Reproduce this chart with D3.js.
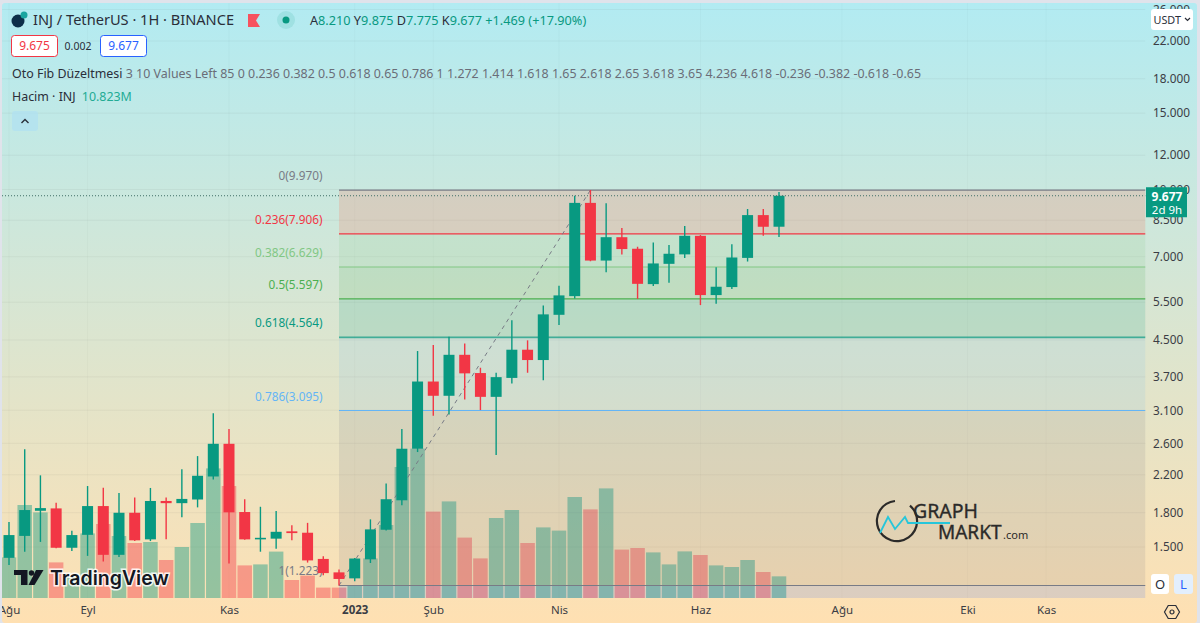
<!DOCTYPE html>
<html>
<head>
<meta charset="utf-8">
<script src="https://cdn.jsdelivr.net/npm/d3@7"></script>
<style>
  html, body { margin: 0; padding: 0; background: #e0e3eb; overflow: hidden; }
  text { font-family: "Noto Sans", sans-serif; }
</style>
</head>
<body>
<svg id="chart" width="1200" height="623"></svg>
<script>
// candles, one per period
const candleOpen = [1.416,1.591,1.818,1.841,1.494,1.600,1.864,1.439,1.799,1.562,1.915,1.893,1.930,2.181,2.594,1.806,1.562,1.568,1.630,1.618,1.408,1.311,1.270,1.405,1.644,1.922,2.527,3.610,3.347,4.160,3.776,3.328,3.680,4.274,4.046,5.144,5.680,9.317,6.860,7.766,7.304,6.054,6.742,7.089,7.823,5.712,5.960,6.958,8.732,8.210];
const candleHigh = [1.713,2.519,2.194,1.896,1.635,2.073,2.055,1.998,1.951,2.052,1.951,2.265,2.430,3.049,2.806,1.933,1.857,1.815,1.684,1.705,1.429,1.332,1.414,1.737,2.102,2.806,4.244,4.380,4.576,4.418,3.884,3.782,4.996,4.492,5.408,6.001,9.674,9.970,9.304,8.153,7.381,7.550,7.446,8.238,7.853,6.617,7.485,9.018,9.018,9.875];
const candleLow = [1.363,1.463,1.541,1.490,1.468,1.431,1.388,1.423,1.548,1.548,1.562,1.757,1.851,2.146,1.374,1.558,1.463,1.486,1.554,1.381,1.292,1.223,1.251,1.378,1.637,1.873,2.483,3.009,3.032,3.280,3.103,2.443,3.574,3.782,3.634,4.870,5.609,6.835,6.444,7.089,5.597,5.991,6.095,6.958,5.416,5.452,5.898,6.825,7.823,7.775];
const candleClose = [1.598,1.825,1.844,1.494,1.598,1.864,1.439,1.799,1.554,1.915,1.893,1.936,2.189,2.594,1.803,1.562,1.575,1.626,1.615,1.397,1.306,1.266,1.411,1.647,1.933,2.527,3.610,3.347,4.160,3.770,3.328,3.695,4.274,4.046,5.156,5.702,9.317,6.860,7.766,7.292,6.063,6.756,7.112,7.823,5.712,5.970,6.973,8.732,8.208,9.677];

// volume in millions
const volumes = [20.3,46.5,42.8,17.8,10.5,32.3,37,31,27.5,28,19,25.5,37.5,64.8,56,16.3,16.8,23.2,9,11.2,5.2,5.2,6,19.8,36.5,65.5,74.7,43.2,48.3,30.2,19.8,40,44,27.5,35.3,33.7,50.5,44.3,54.8,24.2,25,22.8,16.8,23.3,21.5,16.3,15.5,19,13,10.823];

const priceTicks = [26,22,18,15,12,10,8.5,7,5.5,4.5,3.7,3.1,2.6,2.2,1.8,1.5];
const timeTicks = [0,5,14,22,27,35,44,53,61,66];
const timeLabels = ["Ağu","Eyl","Kas","2023","Şub","Nis","Haz","Ağu","Eki","Kas"];

const fibLevels = ["0","0.236","0.382","0.5","0.618","0.786","1"];
const fibPrices = [9.970,7.906,6.629,5.597,4.564,3.095,1.223];
const fibColors = ["#787b86","#f23645","#81c784","#4caf50","#089981","#64b5f6","#787b86"];
const fibZoneColors = ["#f4846a","#81c784","#4caf50","#089981","#64b5f6","#787b86","#2962ff"];
const fibStart = 21, fibTop = 37;
const lastPrice = 9.677;

const up = "#089981", down = "#f23645";
const paneLeft = 2, paneRight = 1145.5, paneBottom = 598;

const x = d3.scaleLinear().domain([0, 49]).range([9, 779]);
const y = d3.scaleLog().domain([1.5, 22]).range([547, 41]);
const yVol = d3.scaleLinear().domain([0, 100]).range([paneBottom, paneBottom - 200]);

const svg = d3.select("#chart");

const defs = svg.append("defs");
const grad = defs.append("linearGradient").attr("id", "bg")
  .attr("x1", 0).attr("y1", 0).attr("x2", 0).attr("y2", 1);
grad.append("stop").attr("offset", "0%").attr("stop-color", "#b2ebf2");
grad.append("stop").attr("offset", "100%").attr("stop-color", "#ffe0b2");
defs.append("clipPath").attr("id", "frame").append("rect")
  .attr("x", 2).attr("y", 3).attr("width", 1195).attr("height", 620);
defs.append("clipPath").attr("id", "pane").append("rect")
  .attr("x", paneLeft).attr("y", 3).attr("width", paneRight - paneLeft).attr("height", paneBottom - 3);

svg.append("rect").attr("x", 2).attr("y", 3).attr("width", 1195).attr("height", 620)
  .attr("rx", 3).attr("fill", "url(#bg)");

const root = svg.append("g").attr("clip-path", "url(#frame)");
const pane = root.append("g").attr("clip-path", "url(#pane)");

// grid
pane.append("g").selectAll("line").data(priceTicks).join("line")
  .attr("x1", paneLeft).attr("x2", paneRight)
  .attr("y1", d => y(d)).attr("y2", d => y(d))
  .attr("stroke", "rgba(60,60,60,0.06)");
pane.append("g").selectAll("line").data(timeTicks).join("line")
  .attr("x1", d => x(d)).attr("x2", d => x(d))
  .attr("y1", 3).attr("y2", paneBottom)
  .attr("stroke", "rgba(60,60,60,0.025)");

// volume
const barW = 14.5;
pane.append("g").selectAll("rect").data(volumes).join("rect")
  .attr("x", (d, i) => x(i) - barW / 2)
  .attr("width", barW)
  .attr("y", d => yVol(d))
  .attr("height", d => paneBottom - yVol(d))
  .attr("fill", (d, i) => candleClose[i] >= candleOpen[i] ? up : down)
  .attr("fill-opacity", 0.42);

// fib zones
const zoneEdges = fibPrices.map(p => y(p)).concat([paneBottom]);
pane.append("g").selectAll("rect").data(fibZoneColors).join("rect")
  .attr("x", x(fibStart))
  .attr("width", paneRight - x(fibStart))
  .attr("y", (d, i) => zoneEdges[i])
  .attr("height", (d, i) => zoneEdges[i + 1] - zoneEdges[i])
  .attr("fill", d => d)
  .attr("fill-opacity", (d, i) => i == 0 ? 0.25 : i == 4 ? 0.12 : 0.15);

// fib lines
pane.append("g").selectAll("line").data(fibPrices).join("line")
  .attr("x1", x(fibStart)).attr("x2", paneRight)
  .attr("y1", d => y(d)).attr("y2", d => y(d))
  .attr("stroke", (d, i) => fibColors[i])
  .attr("stroke-opacity", (d, i) => i == 4 ? 0.7 : 1)
  .attr("stroke-width", (d, i) => i == 4 ? 1.6 : 1.1);

pane.append("g").selectAll("text").data(fibPrices).join("text")
  .attr("x", x(fibStart) - 16.5)
  .attr("y", d => y(d) - 10)
  .attr("text-anchor", "end")
  .attr("font-size", 11.8)
  .attr("fill", (d, i) => fibColors[i])
  .text((d, i) => fibLevels[i] + "(" + d3.format(".3f")(d) + ")");

// trend line
pane.append("line")
  .attr("x1", x(fibStart)).attr("y1", y(fibPrices[6]))
  .attr("x2", x(fibTop)).attr("y2", y(fibPrices[0]))
  .attr("stroke", "#787b86").attr("stroke-width", 1).attr("stroke-dasharray", "4 4");

// candles
const candles = pane.append("g").selectAll("g").data(candleOpen).join("g")
  .attr("fill", (d, i) => candleClose[i] >= d ? up : down)
  .attr("stroke", (d, i) => candleClose[i] >= d ? up : down);
candles.append("line")
  .attr("x1", (d, i) => x(i)).attr("x2", (d, i) => x(i))
  .attr("y1", (d, i) => y(candleHigh[i])).attr("y2", (d, i) => y(candleLow[i]))
  .attr("stroke-width", 1.4);
candles.append("rect")
  .attr("x", (d, i) => x(i) - 5.5)
  .attr("width", 11)
  .attr("y", (d, i) => y(Math.max(d, candleClose[i])))
  .attr("height", (d, i) => Math.max(1.5, Math.abs(y(d) - y(candleClose[i]))))
  .attr("stroke", "none");

// last price line
pane.append("line")
  .attr("x1", paneLeft).attr("x2", paneRight)
  .attr("y1", y(lastPrice)).attr("y2", y(lastPrice))
  .attr("stroke", "#3f6f68").attr("stroke-dasharray", "1 2");

// price axis
const yAxis = root.append("g").attr("transform", "translate(1146,0)")
  .call(d3.axisRight(y).tickValues(priceTicks).tickFormat(d3.format(".3f")).tickSize(0).tickPadding(7));
yAxis.select(".domain").remove();
yAxis.selectAll("text").attr("font-size", 11.8).attr("fill", "#3b3d45").style("font-family", '"Noto Sans", sans-serif');

// time axis
const xAxis = root.append("g").attr("transform", `translate(0,${paneBottom})`)
  .call(d3.axisBottom(x).tickValues(timeTicks).tickFormat((d, i) => timeLabels[i]).tickSize(0).tickPadding(8));
xAxis.select(".domain").remove();
xAxis.selectAll("text").attr("font-size", 11.5).attr("fill", "#3b3d45").style("font-family", '"Noto Sans", sans-serif')
  .attr("font-weight", (d, i) => timeLabels[i] == "2023" ? 700 : 400);

// price tag
const tag = root.append("g");
tag.append("rect").attr("x", 1146).attr("y", y(lastPrice) - 8.5).attr("width", 41).attr("height", 30).attr("fill", up);
tag.append("text").attr("x", 1167).attr("y", y(lastPrice) + 5).attr("text-anchor", "middle")
  .attr("font-size", 12).attr("font-weight", 700).attr("fill", "#fff").text(d3.format(".3f")(lastPrice));
tag.append("text").attr("x", 1167).attr("y", y(lastPrice) + 18).attr("text-anchor", "middle")
  .attr("font-size", 11.5).attr("fill", "#fff").text("2d 9h");

// header
const dark = "#2a2e39", grey = "#6a6d78";
root.append("circle").attr("cx", 18).attr("cy", 21).attr("r", 6.5).attr("fill", "#0d2f4a");
root.append("circle").attr("cx", 24).attr("cy", 15).attr("r", 3.5).attr("fill", "#1aa5a0");
root.append("text").attr("x", 33).attr("y", 25).attr("font-size", 14.6).attr("fill", dark)
  .text("INJ / TetherUS · 1H · BINANCE");
root.append("path").attr("d", "M248 14h12l-4 6.5 4 6.5h-12z").attr("fill", "#f7525f");
root.append("circle").attr("cx", 286).attr("cy", 20).attr("r", 9).attr("fill", "#089981").attr("fill-opacity", 0.12);
root.append("circle").attr("cx", 286).attr("cy", 20).attr("r", 3.5).attr("fill", up);

const ohlc = root.append("text").attr("x", 310).attr("y", 25).attr("font-size", 12.7).attr("fill", up);
[["A","8.210"],["Y","9.875"],["D","7.775"],["K","9.677"]].forEach(p => {
  ohlc.append("tspan").attr("fill", dark).text(p[0]);
  ohlc.append("tspan").text(p[1] + " ");
});
ohlc.append("tspan").text("+1.469 (+17.90%)");

function box(bx, by, w, h, stroke, fill) {
  return root.append("rect").attr("x", bx).attr("y", by).attr("width", w).attr("height", h)
    .attr("rx", 3).attr("fill", fill).attr("stroke", stroke);
}
box(11.5, 35.5, 46, 21, "#f23645", "#fff");
root.append("text").attr("x", 34.5).attr("y", 50).attr("text-anchor", "middle").attr("font-size", 12).attr("fill", "#f23645").text("9.675");
root.append("text").attr("x", 78).attr("y", 50).attr("text-anchor", "middle").attr("font-size", 10.5).attr("fill", dark).text("0.002");
box(100.5, 35.5, 46, 21, "#2962ff", "#fff");
root.append("text").attr("x", 123.5).attr("y", 50).attr("text-anchor", "middle").attr("font-size", 12).attr("fill", "#2962ff").text("9.677");

const fibLine = root.append("text").attr("x", 12).attr("y", 78).attr("font-size", 12.43).attr("fill", grey);
fibLine.append("tspan").attr("fill", dark).text("Oto Fib Düzeltmesi ");
fibLine.append("tspan").text("3 10 Values Left 85 0 0.236 0.382 0.5 0.618 0.65 0.786 1 1.272 1.414 1.618 1.65 2.618 2.65 3.618 3.65 4.236 4.618 -0.236 -0.382 -0.618 -0.65");

const volLine = root.append("text").attr("x", 12).attr("y", 101).attr("font-size", 12.4).attr("fill", dark);
volLine.append("tspan").text("Hacim · INJ ");
volLine.append("tspan").attr("dx", 3).attr("fill", "#22ab94").text("10.823M");

box(12, 111, 26, 20, "none", "rgba(178,225,240,0.8)");
root.append("path").attr("d", "M21.5 123l3.5-3.5 3.5 3.5").attr("fill", "none").attr("stroke", dark).attr("stroke-width", 1.4);

// USDT button
box(1151, 9, 42, 21, "none", "#fff");
root.append("text").attr("x", 1153.5).attr("y", 24).attr("font-size", 10.8).attr("fill", dark).text("USDT");
root.append("path").attr("d", "M1185 18l2.5 2.5 2.5-2.5").attr("fill", "none").attr("stroke", dark).attr("stroke-width", 1.2);

// O / L buttons
box(1151, 574, 18, 20, "none", "#fff");
root.append("text").attr("x", 1160).attr("y", 589).attr("text-anchor", "middle").attr("font-size", 13).attr("fill", dark).text("O");
box(1174, 574, 19, 20, "none", "#e3effd");
root.append("text").attr("x", 1183.5).attr("y", 589).attr("text-anchor", "middle").attr("font-size", 13).attr("fill", "#2962ff").text("L");

// settings icon
const hex = d3.range(6).map(i => [Math.cos(i * Math.PI / 3) * 7.5, Math.sin(i * Math.PI / 3) * 7.5]);
const gear = root.append("g").attr("transform", "translate(1172,612)");
gear.append("path").attr("d", d3.line().curve(d3.curveLinearClosed)(hex)).attr("fill", "none").attr("stroke", dark).attr("stroke-width", 1.2);
gear.append("circle").attr("r", 2).attr("fill", "none").attr("stroke", dark).attr("stroke-width", 1.2);

// TradingView mark
const tv = root.append("g");
tv.append("path").attr("d", "M14 570h13.5v15h-6.5v-10h-7z").attr("fill", "#131722");
tv.append("circle").attr("cx", 31.5).attr("cy", 573).attr("r", 2.7).attr("fill", "#131722");
tv.append("path").attr("d", "M36 570h7.5l-9 15h-6z").attr("fill", "#131722");
tv.append("text").attr("x", 50).attr("y", 585).attr("font-size", 19.5).attr("font-weight", 600)
  .style("font-family", "Inter, sans-serif")
  .attr("fill", "#131722").attr("stroke", "rgba(255,255,255,0.85)").attr("stroke-width", 3)
  .attr("paint-order", "stroke").text("TradingView");

// GraphMarkt mark
const gm = root.append("g").attr("transform", "translate(897,521)");
gm.append("path")
  .attr("d", d3.arc().innerRadius(19).outerRadius(21.2).startAngle(0.7).endAngle(2 * Math.PI - 0.1)())
  .attr("fill", "#2b2a29");
gm.append("path").attr("d", "M-17 12L-9 -4L-2 8L8 -4L11 2H53")
  .attr("fill", "none").attr("stroke", "#26c6da").attr("stroke-width", 1.8);
root.append("g").attr("fill", "#2b2a29").attr("stroke", "#2b2a29").attr("stroke-width", 0.35)
  .call(g => {
    g.append("text").attr("x", 913).attr("y", 518).attr("font-size", 19.5).text("GRAPH");
    g.append("text").attr("x", 938).attr("y", 539).attr("font-size", 19).text("MARKT");
  });
root.append("text").attr("x", 1003).attr("y", 539).attr("font-size", 11).attr("fill", "#2b2a29").text(".com");
</script>
</body>
</html>
